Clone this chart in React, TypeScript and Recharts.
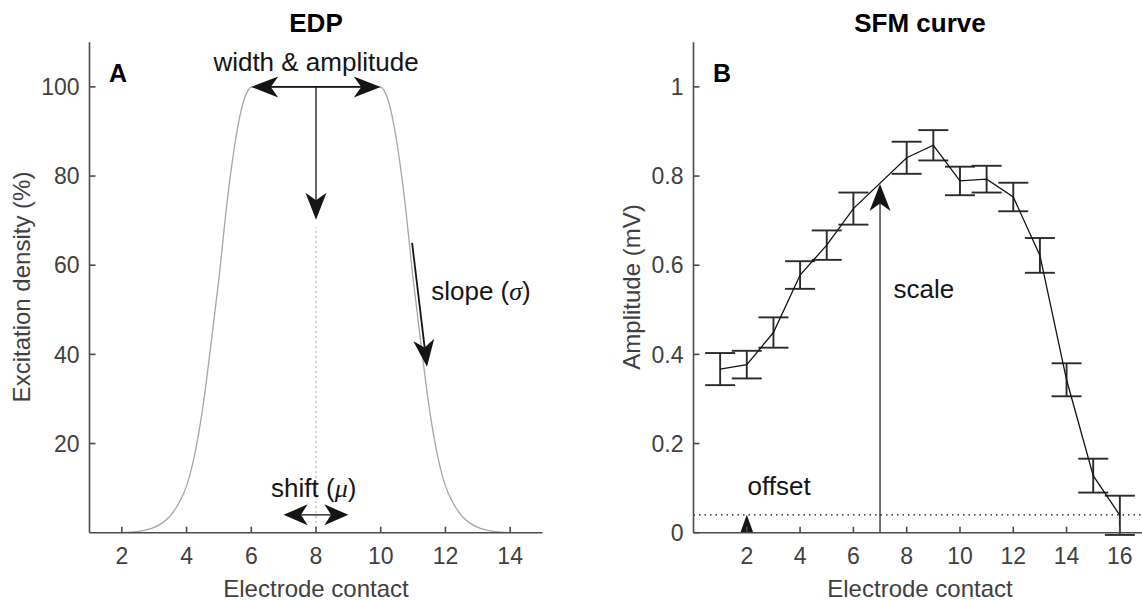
import React from "react";
import {
  ComposedChart,
  Line,
  XAxis,
  YAxis,
  ReferenceLine,
  ReferenceDot,
  ErrorBar,
} from "recharts";

// Panel A: excitation density profile
const edpX = [2, 2.5, 3, 3.25, 3.5, 3.75, 4, 4.25, 4.5, 4.75, 5, 5.25, 5.5, 5.75, 5.9, 6, 10, 10.1, 10.25, 10.5, 10.75, 11, 11.25, 11.5, 11.75, 12, 12.25, 12.5, 12.75, 13, 13.5, 14];
const edpY = [0, 0.3, 1.2, 2.2, 3.8, 6.5, 10.5, 17.5, 28, 42, 57, 74, 87.5, 96.5, 99.2, 100, 100, 99.2, 96.5, 87.5, 74, 57, 42, 28, 17.5, 10.5, 6.5, 3.8, 2.2, 1.2, 0.3, 0];
const edpTicksX = [2, 4, 6, 8, 10, 12, 14];
const edpTicksY = [20, 40, 60, 80, 100];

// Panel B: SFM curve (contact 7 has no measurement)
const contacts = [1, 2, 3, 4, 5, 6, 8, 9, 10, 11, 12, 13, 14, 15, 16];
const amplitude = [0.367, 0.377, 0.449, 0.578, 0.645, 0.727, 0.841, 0.869, 0.789, 0.793, 0.753, 0.622, 0.343, 0.128, 0.039];
const amplitudeErr = [0.036, 0.031, 0.034, 0.031, 0.033, 0.036, 0.036, 0.034, 0.032, 0.03, 0.032, 0.039, 0.037, 0.038, 0.044];
const sfmTicksX = [2, 4, 6, 8, 10, 12, 14, 16];
const sfmTicksY = [0, 0.2, 0.4, 0.6, 0.8, 1];
const offsetLevel = 0.04;
const scaleContact = 7;
const scaleTop = 0.782;

const edp = edpX.map((x, i) => ({ x, y: edpY[i] }));
const sfm = contacts.map((x, i) => ({ x, amp: amplitude[i], err: amplitudeErr[i] }));

const FONT = '"Liberation Sans", Arial, Helvetica, sans-serif';
const GREEK = '"Liberation Serif", "DejaVu Serif", serif';
const INK = "#141414";
const AXIS = "#4a4a4a";
const TICK_TEXT = "#404040";

const tickStyle = { fill: TICK_TEXT, fontSize: 23, fontFamily: FONT };
const axisLine = { stroke: AXIS, strokeWidth: 1.6 };
const tickLine = { stroke: AXIS, strokeWidth: 1.6 };
const noLabel = () => <g />;

type Head = { len: number; half: number; back: number };
const bigHead: Head = { len: 27, half: 10.5, back: 0.72 };
const shiftHead: Head = { len: 24, half: 10.5, back: 0.72 };
const smallHead: Head = { len: 18, half: 6.5, back: 1 };

function arrow(head: Head, width = 1.3) {
  return (p: any) => {
    const x1 = +p.x1, y1 = +p.y1, x2 = +p.x2, y2 = +p.y2;
    const d = Math.hypot(x2 - x1, y2 - y1) || 1;
    const ux = (x2 - x1) / d, uy = (y2 - y1) / d;
    const nx = -uy, ny = ux;
    const bx = x2 - ux * head.len, by = y2 - uy * head.len;
    const kx = x2 - ux * head.len * head.back, ky = y2 - uy * head.len * head.back;
    const pts = [
      [x2, y2],
      [bx + nx * head.half, by + ny * head.half],
      [kx, ky],
      [bx - nx * head.half, by - ny * head.half],
    ]
      .map((q) => q.join(","))
      .join(" ");
    return (
      <g>
        <line x1={x1} y1={y1} x2={kx} y2={ky} stroke={INK} strokeWidth={width} />
        <polygon points={pts} fill={INK} />
      </g>
    );
  };
}

function note(text: string, anchor: "middle" | "start", greek?: string) {
  return (props: any) => {
    const vb = props.viewBox || {};
    return (
      <text
        x={vb.x}
        y={vb.y}
        dy="0.36em"
        textAnchor={anchor}
        fill={INK}
        fontSize={26}
        fontFamily={FONT}
      >
        {text}
        {greek && (
          <>
            {" ("}
            <tspan fontFamily={GREEK} fontStyle="italic">
              {greek}
            </tspan>
            {")"}
          </>
        )}
      </text>
    );
  };
}

function EdpChart() {
  return (
    <ComposedChart
      width={571}
      height={600}
      data={edp}
      margin={{ top: 42.3, right: 28.5, bottom: 37.3, left: 29.5 }}
    >
      <XAxis
        dataKey="x"
        type="number"
        domain={[1, 15]}
        ticks={edpTicksX}
        height={30}
        tick={tickStyle}
        tickSize={-6}
        tickMargin={21}
        axisLine={axisLine}
        tickLine={tickLine}
      />
      <XAxis
        xAxisId="top"
        orientation="top"
        type="number"
        domain={[1, 15]}
        ticks={edpTicksX}
        height={0}
        tick={noLabel}
        tickSize={-6}
        axisLine={axisLine}
        tickLine={tickLine}
      />
      <YAxis
        type="number"
        domain={[0, 110]}
        ticks={edpTicksY}
        width={60}
        tick={tickStyle}
        tickSize={-6}
        tickMargin={16}
        axisLine={axisLine}
        tickLine={tickLine}
      />
      <YAxis
        yAxisId="right"
        orientation="right"
        type="number"
        domain={[0, 110]}
        ticks={edpTicksY}
        width={0}
        tick={noLabel}
        tickSize={-6}
        axisLine={axisLine}
        tickLine={tickLine}
      />
      <ReferenceLine
        segment={[{ x: 8, y: 0 }, { x: 8, y: 68.5 }]}
        stroke="#9a9a9a"
        strokeWidth={1.2}
        strokeDasharray="1.5 3.5"
      />
      <Line
        dataKey="y"
        type="monotone"
        stroke="#a6a6a6"
        strokeWidth={1.3}
        dot={false}
        activeDot={false}
        isAnimationActive={false}
      />
      <ReferenceLine segment={[{ x: 8, y: 100 }, { x: 6, y: 100 }]} shape={arrow(bigHead, 1.6)} />
      <ReferenceLine segment={[{ x: 8, y: 100 }, { x: 10, y: 100 }]} shape={arrow(bigHead, 1.6)} />
      <ReferenceLine segment={[{ x: 8, y: 100 }, { x: 8, y: 70.2 }]} shape={arrow(bigHead, 1.3)} />
      <ReferenceLine segment={[{ x: 10.97, y: 65 }, { x: 11.43, y: 37.2 }]} shape={arrow(bigHead, 1.8)} />
      <ReferenceLine segment={[{ x: 8, y: 4 }, { x: 7, y: 4 }]} shape={arrow(shiftHead, 1.3)} />
      <ReferenceLine segment={[{ x: 8, y: 4 }, { x: 9, y: 4 }]} shape={arrow(shiftHead, 1.3)} />
      <ReferenceDot x={8} y={105.7} r={0} fill="none" stroke="none" label={{ content: note("width & amplitude", "middle") }} />
      <ReferenceDot x={11.56} y={54.2} r={0} fill="none" stroke="none" label={{ content: note("slope", "start", "σ") }} />
      <ReferenceDot x={7.93} y={10.2} r={0} fill="none" stroke="none" label={{ content: note("shift", "middle", "μ") }} />
    </ComposedChart>
  );
}

function SfmChart() {
  return (
    <ComposedChart
      width={600}
      height={600}
      data={sfm}
      margin={{ top: 42.3, right: 24.5, bottom: 37.3, left: 62.5 }}
    >
      <XAxis
        dataKey="x"
        type="number"
        domain={[0, 17]}
        ticks={sfmTicksX}
        height={30}
        tick={tickStyle}
        tickSize={-6}
        tickMargin={21}
        axisLine={axisLine}
        tickLine={tickLine}
      />
      <XAxis
        xAxisId="top"
        orientation="top"
        type="number"
        domain={[0, 17]}
        ticks={sfmTicksX}
        height={0}
        tick={noLabel}
        tickSize={-6}
        axisLine={axisLine}
        tickLine={tickLine}
      />
      <YAxis
        type="number"
        domain={[0, 1.1]}
        allowDataOverflow
        ticks={sfmTicksY}
        width={60}
        tick={tickStyle}
        tickSize={-6}
        tickMargin={16}
        axisLine={axisLine}
        tickLine={tickLine}
      />
      <YAxis
        yAxisId="right"
        orientation="right"
        type="number"
        domain={[0, 1.1]}
        ticks={sfmTicksY}
        width={0}
        tick={noLabel}
        tickSize={-6}
        axisLine={axisLine}
        tickLine={tickLine}
      />
      <ReferenceLine
        y={offsetLevel}
        stroke={INK}
        strokeWidth={1.3}
        strokeDasharray="1.5 4"
      />
      <Line
        dataKey="amp"
        type="linear"
        stroke={INK}
        strokeWidth={1.3}
        dot={false}
        activeDot={false}
        isAnimationActive={false}
      >
        <ErrorBar
          dataKey="err"
          direction="y"
          width={15}
          stroke="#2b2b2b"
          strokeWidth={1.9}
          isAnimationActive={false}
        />
      </Line>
      <ReferenceLine
        segment={[{ x: scaleContact, y: 0 }, { x: scaleContact, y: scaleTop }]}
        shape={arrow(bigHead, 1.2)}
      />
      <ReferenceLine
        segment={[{ x: 2, y: 0 }, { x: 2, y: offsetLevel }]}
        shape={arrow(smallHead, 1)}
      />
      <ReferenceDot x={7.51} y={0.547} r={0} fill="none" stroke="none" label={{ content: note("scale", "start") }} />
      <ReferenceDot x={2.03} y={0.105} r={0} fill="none" stroke="none" label={{ content: note("offset", "start") }} />
    </ComposedChart>
  );
}

export default function App() {
  return (
    <div
      style={{
        position: "absolute",
        left: 0,
        top: 0,
        width: 1142,
        height: 600,
        overflow: "hidden",
        background: "#fff",
      }}
    >
      <div style={{ position: "absolute", left: 0, top: 0 }}>
        <EdpChart />
      </div>
      <div style={{ position: "absolute", left: 571, top: 0 }}>
        <SfmChart />
      </div>
      <svg
        width={1142}
        height={600}
        style={{ position: "absolute", left: 0, top: 0, pointerEvents: "none" }}
        fontFamily={FONT}
      >
        <text x={316} y={32} textAnchor="middle" fontWeight="bold" fontSize={26} fill="#000">EDP</text>
        <text x={920} y={32} textAnchor="middle" fontWeight="bold" fontSize={26} fill="#000">SFM curve</text>
        <text x={109} y={82} fontWeight="bold" fontSize={25} fill="#000">A</text>
        <text x={713} y={82} fontWeight="bold" fontSize={25} fill="#000">B</text>
        <text x={316} y={596.5} textAnchor="middle" fontSize={24} fill={TICK_TEXT}>Electrode contact</text>
        <text x={920} y={596.5} textAnchor="middle" fontSize={24} fill={TICK_TEXT}>Electrode contact</text>
        <text transform="translate(30,287) rotate(-90)" textAnchor="middle" fontSize={24} fill={TICK_TEXT}>Excitation density (%)</text>
        <text transform="translate(639.5,287) rotate(-90)" textAnchor="middle" fontSize={24} fill={TICK_TEXT}>Amplitude (mV)</text>
      </svg>
    </div>
  );
}
